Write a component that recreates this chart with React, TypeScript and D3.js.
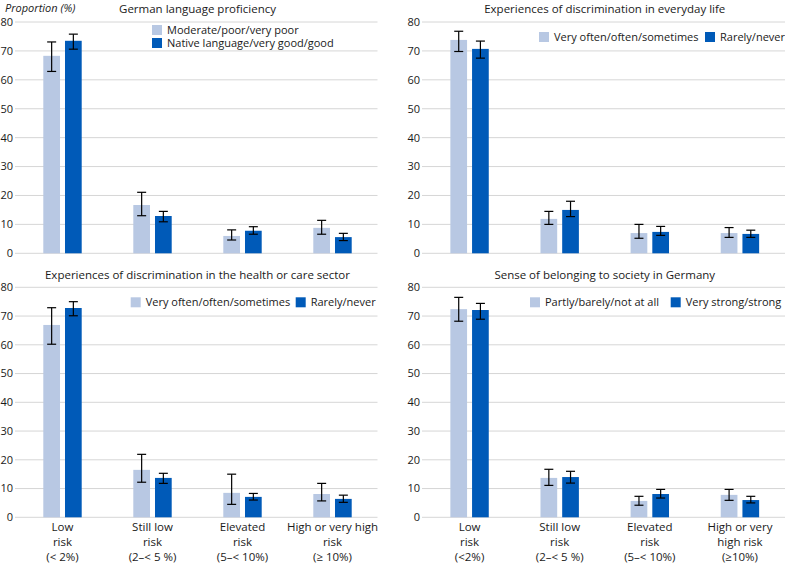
import React from "react";
import * as d3 from "d3";

const W = 785;
const H = 564;

const yTicks = [0, 10, 20, 30, 40, 50, 60, 70, 80];
const categories = ["low", "stillLow", "elevated", "high"];

const xLabelsLeft = [
  ["Low", "risk", "(< 2%)"],
  ["Still low", "risk", "(2–< 5 %)"],
  ["Elevated", "risk", "(5–< 10%)"],
  ["High or very high", "risk", "(≥ 10%)"],
];
const xLabelsRight = [
  ["Low", "risk", "(<2%)"],
  ["Still low", "risk", "(2–< 5 %)"],
  ["Elevated", "risk", "(5–< 10%)"],
  ["High or very", "high risk", "(≥10%)"],
];

// Panel 1: German language proficiency
const p1Titles = ["Moderate/poor/very poor", "Native language/very good/good"];
const p1Light = [68.3, 16.7, 6.0, 8.8];
const p1LightLo = [62.9, 13.0, 4.6, 6.6];
const p1LightHi = [73.1, 21.1, 8.1, 11.4];
const p1Dark = [73.5, 12.9, 7.8, 5.6];
const p1DarkLo = [70.6, 10.9, 6.6, 4.4];
const p1DarkHi = [75.8, 14.5, 9.2, 6.9];

// Panel 2: Experiences of discrimination in everyday life
const p2Titles = ["Very often/often/sometimes", "Rarely/never"];
const p2Light = [73.8, 11.9, 7.0, 7.0];
const p2LightLo = [69.8, 10.0, 5.2, 5.5];
const p2LightHi = [76.8, 14.5, 10.0, 8.9];
const p2Dark = [70.7, 15.0, 7.4, 6.7];
const p2DarkLo = [67.5, 12.7, 6.2, 5.5];
const p2DarkHi = [73.4, 18.0, 9.3, 8.0];

// Panel 3: Experiences of discrimination in the health or care sector
const p3Titles = ["Very often/often/sometimes", "Rarely/never"];
const p3Light = [66.9, 16.5, 8.5, 8.1];
const p3LightLo = [60.2, 12.2, 4.5, 5.7];
const p3LightHi = [72.9, 21.9, 15.0, 11.8];
const p3Dark = [72.8, 13.7, 7.1, 6.4];
const p3DarkLo = [70.1, 11.8, 6.0, 5.2];
const p3DarkHi = [75.0, 15.3, 8.3, 7.7];

// Panel 4: Sense of belonging to society in Germany
const p4Titles = ["Partly/barely/not at all", "Very strong/strong"];
const p4Light = [72.4, 13.7, 5.7, 7.8];
const p4LightLo = [68.2, 11.1, 4.2, 5.9];
const p4LightHi = [76.5, 16.7, 7.3, 9.7];
const p4Dark = [72.1, 14.0, 8.1, 6.0];
const p4DarkLo = [68.9, 11.9, 6.7, 5.0];
const p4DarkHi = [74.4, 16.0, 9.7, 7.3];

const LIGHT = "#b8c8e3";
const DARK = "#005ab8";
const GRID = "#d6d6d6";
const TEXT = "#1a1a1a";
const FONT = "'Open Sans', sans-serif";

type PanelProps = {
  title: string;
  legend: string[];
  legendVertical: boolean;
  legendX: number[];
  legendY: number[];
  light: number[];
  lightLo: number[];
  lightHi: number[];
  dark: number[];
  darkLo: number[];
  darkHi: number[];
  x0: number;
  x1: number;
  yTop: number;
  yBottom: number;
  titleY: number;
  xLabels?: string[][];
};

function Panel(p: PanelProps) {
  const x = d3.scaleBand<string>().domain(categories).range([p.x0, p.x1]).padding(0);
  const y = d3.scaleLinear().domain([0, 80]).range([p.yBottom, p.yTop]);
  const half = 19.2;
  const series = [
    { vals: p.light, lo: p.lightLo, hi: p.lightHi, color: LIGHT },
    { vals: p.dark, lo: p.darkLo, hi: p.darkHi, color: DARK },
  ];
  const capW = 9;
  return (
    <g>
      {yTicks.map((t) => (
        <g key={t}>
          <line x1={p.x0 - 2.5} x2={p.x1} y1={y(t)} y2={y(t)} stroke={GRID} strokeWidth={1} />
          <text x={p.x0 - 4.5} y={y(t)} dy="0.35em" textAnchor="end" fontSize={11} fill={TEXT} fontFamily={FONT}>
            {t}
          </text>
        </g>
      ))}
      {categories.map((c, i) => {
        const cx = (x(c) as number) + x.bandwidth() / 2;
        const inner = d3.scaleBand<number>().domain([0, 1]).range([cx - half, cx + half]).paddingInner(0.23);
        return (
          <g key={c}>
            {series.map((s, j) => {
              const bx = inner(j) as number;
              const bw = inner.bandwidth();
              const mx = bx + bw / 2;
              return (
                <g key={j}>
                  <rect x={bx} y={y(s.vals[i])} width={bw} height={y(0) - y(s.vals[i])} fill={s.color} />
                  <line x1={mx} x2={mx} y1={y(s.lo[i])} y2={y(s.hi[i])} stroke="#000" strokeWidth={1.2} />
                  <line x1={mx - capW / 2} x2={mx + capW / 2} y1={y(s.lo[i])} y2={y(s.lo[i])} stroke="#000" strokeWidth={1.2} />
                  <line x1={mx - capW / 2} x2={mx + capW / 2} y1={y(s.hi[i])} y2={y(s.hi[i])} stroke="#000" strokeWidth={1.2} />
                </g>
              );
            })}
            {p.xLabels &&
              p.xLabels[i].map((ln, k) => (
                <text key={k} x={cx} y={p.yBottom + 14 + k * 15} textAnchor="middle" fontSize={11.5} fill={TEXT} fontFamily={FONT}>
                  {ln}
                </text>
              ))}
          </g>
        );
      })}
      <text x={(p.x0 + p.x1) / 2} y={p.titleY} textAnchor="middle" fontSize={11.5} fill={TEXT} fontFamily={FONT}>
        {p.title}
      </text>
      {p.legend.map((l, j) => (
        <g key={l}>
          <rect x={p.legendX[j]} y={p.legendY[j] - 5} width={10} height={10} fill={j === 0 ? LIGHT : DARK} />
          <text x={p.legendX[j] + 15} y={p.legendY[j]} dy="0.35em" fontSize={11} fill={TEXT} fontFamily={FONT}>
            {l}
          </text>
        </g>
      ))}
    </g>
  );
}

export default function App() {
  return (
    <svg width={W} height={H} style={{ position: "absolute", left: 0, top: 0, background: "#fff" }}>
      <text x={5} y={12} fontSize={11} fontStyle="italic" fill={TEXT} fontFamily={FONT}>
        Proportion (%)
      </text>
      <Panel
        title="German language proficiency"
        legend={p1Titles}
        legendVertical={true}
        legendX={[152, 152]}
        legendY={[30, 43]}
        light={p1Light}
        lightLo={p1LightLo}
        lightHi={p1LightHi}
        dark={p1Dark}
        darkLo={p1DarkLo}
        darkHi={p1DarkHi}
        x0={17.5}
        x1={377.5}
        yTop={22}
        yBottom={253.3}
        titleY={13}
      />
      <Panel
        title="Experiences of discrimination in everyday life"
        legend={p2Titles}
        legendVertical={false}
        legendX={[539, 705]}
        legendY={[37, 37]}
        light={p2Light}
        lightLo={p2LightLo}
        lightHi={p2LightHi}
        dark={p2Dark}
        darkLo={p2DarkLo}
        darkHi={p2DarkHi}
        x0={424.5}
        x1={785}
        yTop={22}
        yBottom={253.3}
        titleY={13}
      />
      <Panel
        title="Experiences of discrimination in the health or care sector"
        legend={p3Titles}
        legendVertical={false}
        legendX={[130.7, 295.7]}
        legendY={[302.3, 302.3]}
        light={p3Light}
        lightLo={p3LightLo}
        lightHi={p3LightHi}
        dark={p3Dark}
        darkLo={p3DarkLo}
        darkHi={p3DarkHi}
        x0={17.5}
        x1={377.5}
        yTop={287.3}
        yBottom={517.3}
        titleY={278.5}
        xLabels={xLabelsLeft}
      />
      <Panel
        title="Sense of belonging to society in Germany"
        legend={p4Titles}
        legendVertical={false}
        legendX={[530, 670.7]}
        legendY={[302.3, 302.3]}
        light={p4Light}
        lightLo={p4LightLo}
        lightHi={p4LightHi}
        dark={p4Dark}
        darkLo={p4DarkLo}
        darkHi={p4DarkHi}
        x0={424.5}
        x1={785}
        yTop={287.3}
        yBottom={517.3}
        titleY={278.5}
        xLabels={xLabelsRight}
      />
    </svg>
  );
}
